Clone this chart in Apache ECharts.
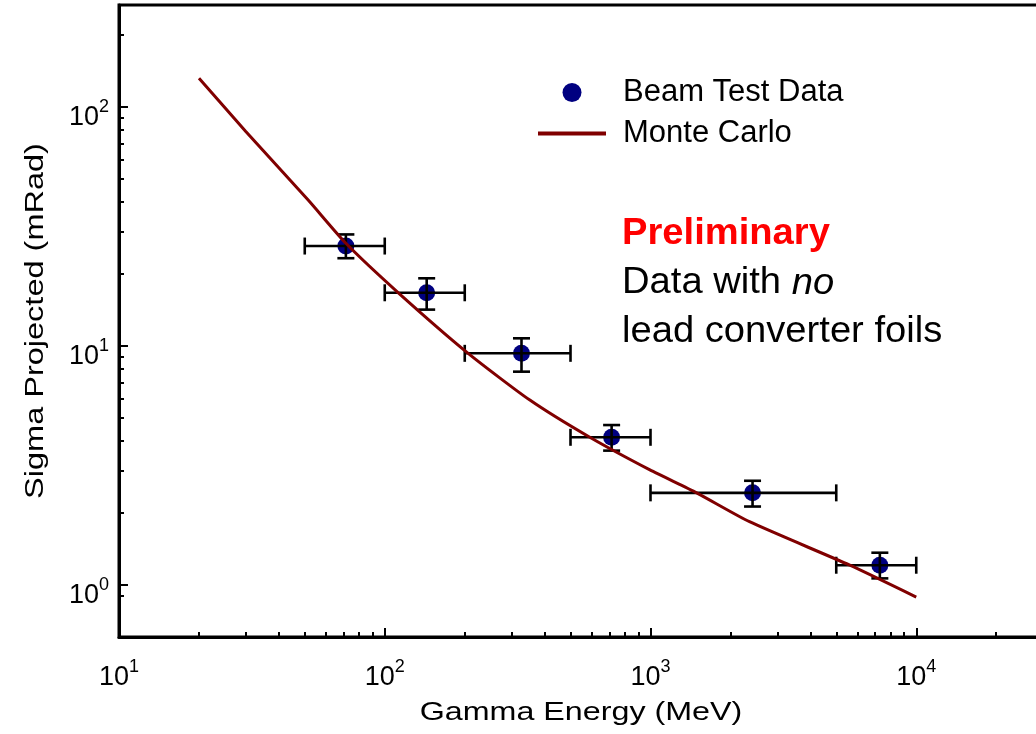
<!DOCTYPE html>
<html>
<head>
<meta charset="utf-8">
<script src="https://cdn.jsdelivr.net/npm/echarts@6/dist/echarts.min.js"></script>
<style>
html,body{margin:0;padding:0;background:#fff;}
#chart{width:1036px;height:734px;}
</style>
</head>
<body>
<div id="chart"></div>
<script>
// ---- data ----
const dataEnergy   = [71.4, 143.8, 327, 714, 2421, 7295];
const dataSigma    = [26.2, 16.7, 9.32, 4.15, 2.43, 1.21];
const energyLow    = [50, 100, 200, 500, 1000, 5000];
const energyHigh   = [100, 200, 500, 1000, 5000, 10000];
const sigmaLow     = [23.3, 14.2, 7.81, 3.65, 2.13, 1.066];
const sigmaHigh    = [29.3, 19.2, 10.77, 4.67, 2.73, 1.365];

const mcEnergy = [20, 30, 51.5, 71.4, 112.5, 206, 351.6, 591, 995, 1491, 2358, 5623, 10000];
const mcSigma  = [132, 79, 40.8, 26.9, 16.7, 9.32, 5.94, 4.15, 3.03, 2.43, 1.84, 1.21, 0.89];

const xMajorTicks = [10, 100, 1000, 10000, 100000];
const xMinorTicks = [20,30,40,50,60,70,80,90, 200,300,400,500,600,700,800,900,
                     2000,3000,4000,5000,6000,7000,8000,9000, 20000,30000,40000,50000,60000,70000,80000,90000];
const yMajorTicks = [1, 10, 100];
const yMinorTicks = [0.9, 2,3,4,5,6,7,8,9, 20,30,40,50,60,70,80,90, 200];

const xTitle = 'Gamma Energy (MeV)';
const yTitle = 'Sigma Projected (mRad)';
const legendNames = ['Beam Test Data', 'Monte Carlo'];

const FONT = 'Liberation Sans, Arial, Helvetica, sans-serif';
const X_MIN = 10, X_MAX = 100000, Y_MIN = 0.606, Y_MAX = 267.2;

function powLabel(v) {
  const e = Math.round(Math.log10(v));
  return '{b|10}{s|' + e + '}';
}
const labelRich = {
  b: { fontSize: 27, fontFamily: FONT, color: '#000', lineHeight: 33, verticalAlign: 'bottom' },
  s: { fontSize: 18, fontFamily: FONT, color: '#000', lineHeight: 18, verticalAlign: 'top' }
};

const chart = echarts.init(document.getElementById('chart'), null, { renderer: 'canvas' });

const pts = dataEnergy.map((x, i) => [x, dataSigma[i]]);
const errRows = dataEnergy.map((x, i) => [x, dataSigma[i], energyLow[i], energyHigh[i], sigmaLow[i], sigmaHigh[i]]);
const mcLine = mcEnergy.map((x, i) => [x, mcSigma[i]]);

const option = {
  backgroundColor: '#fff',
  animation: false,
  grid: {
    left: 119, top: 5, bottom: 97, right: -146,
    outerBoundsMode: 'none', containLabel: false,
    show: true, borderColor: '#000', borderWidth: 3, backgroundColor: 'transparent'
  },
  xAxis: [
    {
      type: 'log', position: 'bottom', min: X_MIN, max: X_MAX,
      axisLine: { show: true, lineStyle: { color: '#000', width: 3 } },
      axisTick: { show: true, inside: true, length: 9, customValues: xMajorTicks, lineStyle: { color: '#000', width: 2 } },
      axisLabel: { show: true, margin: 21, customValues: xMajorTicks, formatter: powLabel, rich: labelRich },
      splitLine: { show: false }, minorTick: { show: false }
    },
    {
      type: 'log', position: 'bottom', min: X_MIN, max: X_MAX,
      axisLine: { show: false },
      axisTick: { show: true, inside: true, length: 5, customValues: xMinorTicks, lineStyle: { color: '#000', width: 2 } },
      axisLabel: { show: false }, splitLine: { show: false }
    }
  ],
  yAxis: [
    {
      type: 'log', position: 'left', min: Y_MIN, max: Y_MAX,
      axisLine: { show: true, lineStyle: { color: '#000', width: 3 } },
      axisTick: { show: true, inside: true, length: 9, customValues: yMajorTicks, lineStyle: { color: '#000', width: 2 } },
      axisLabel: { show: true, margin: 10, customValues: yMajorTicks, formatter: powLabel, rich: labelRich, padding: [15, 0, 0, 0] },
      splitLine: { show: false }, minorTick: { show: false }
    },
    {
      type: 'log', position: 'left', min: Y_MIN, max: Y_MAX,
      axisLine: { show: false },
      axisTick: { show: true, inside: true, length: 5, customValues: yMinorTicks, lineStyle: { color: '#000', width: 2 } },
      axisLabel: { show: false }, splitLine: { show: false }
    }
  ],
  legend: {
    orient: 'vertical', left: 531, top: 72,
    itemWidth: 68, itemHeight: 19, itemGap: 10,
    data: [
      { name: legendNames[0], icon: 'circle' },
      { name: legendNames[1], itemStyle: { color: 'transparent', opacity: 0, borderWidth: 0 },
        lineStyle: { color: '#800000', width: 4 } }
    ],
    textStyle: { fontSize: 31, fontFamily: FONT, color: '#000', lineHeight: 30, padding: [0, 0, 0, 12] }
  },
  series: [
    {
      name: legendNames[0], type: 'scatter', xAxisIndex: 0, yAxisIndex: 0,
      data: pts, symbol: 'circle', symbolSize: 17,
      itemStyle: { color: '#000080', opacity: 1 }, z: 2
    },
    {
      type: 'custom', xAxisIndex: 0, yAxisIndex: 0, z: 3,
      data: errRows,
      renderItem: function (params, api) {
        const y = api.value(1), x = api.value(0);
        const pL = api.coord([api.value(2), y]);
        const pR = api.coord([api.value(3), y]);
        const pT = api.coord([x, api.value(5)]);
        const pB = api.coord([x, api.value(4)]);
        const c = 8.5;
        const st = { stroke: '#000', lineWidth: 2.6 };
        return {
          type: 'group',
          children: [
            { type: 'line', shape: { x1: pL[0], y1: pL[1], x2: pR[0], y2: pR[1] }, style: st },
            { type: 'line', shape: { x1: pL[0], y1: pL[1] - c, x2: pL[0], y2: pL[1] + c }, style: st },
            { type: 'line', shape: { x1: pR[0], y1: pR[1] - c, x2: pR[0], y2: pR[1] + c }, style: st },
            { type: 'line', shape: { x1: pT[0], y1: pT[1], x2: pB[0], y2: pB[1] }, style: st },
            { type: 'line', shape: { x1: pT[0] - c, y1: pT[1], x2: pT[0] + c, y2: pT[1] }, style: st },
            { type: 'line', shape: { x1: pB[0] - c, y1: pB[1], x2: pB[0] + c, y2: pB[1] }, style: st }
          ]
        };
      }
    },
    {
      name: legendNames[1], type: 'line', xAxisIndex: 0, yAxisIndex: 0,
      data: mcLine, symbol: 'none', showSymbol: false, smooth: 0.2,
      lineStyle: { color: '#800000', width: 3 }, itemStyle: { color: '#800000' }, z: 4
    }
  ],
  graphic: [
    {
      type: 'text', x: 581, y: 713, scaleX: 1.24,
      style: { text: xTitle, fontSize: 26, fontFamily: FONT, fill: '#000', align: 'center', verticalAlign: 'middle' }
    },
    {
      type: 'text', x: 36, y: 321, rotation: Math.PI / 2, scaleX: 1.25,
      style: { text: yTitle, fontSize: 26, fontFamily: FONT, fill: '#000', align: 'center', verticalAlign: 'middle' }
    },
    {
      type: 'text', x: 622, y: 210, scaleX: 1.06,
      style: {
        text: '{p|Preliminary}\n{n|Data with }{i|no}\n{n|lead converter foils}',
        align: 'left', verticalAlign: 'top', fontFamily: FONT,
        rich: {
          p: { fontSize: 36, fontFamily: FONT, fontWeight: 'bold', fill: '#FF0000', lineHeight: 49 },
          n: { fontSize: 36, fontFamily: FONT, fill: '#000', lineHeight: 49 },
          i: { fontSize: 36, fontFamily: FONT, fontStyle: 'italic', fill: '#000', lineHeight: 49 }
        }
      }
    }
  ]
};
chart.setOption(option);
</script>
</body>
</html>
